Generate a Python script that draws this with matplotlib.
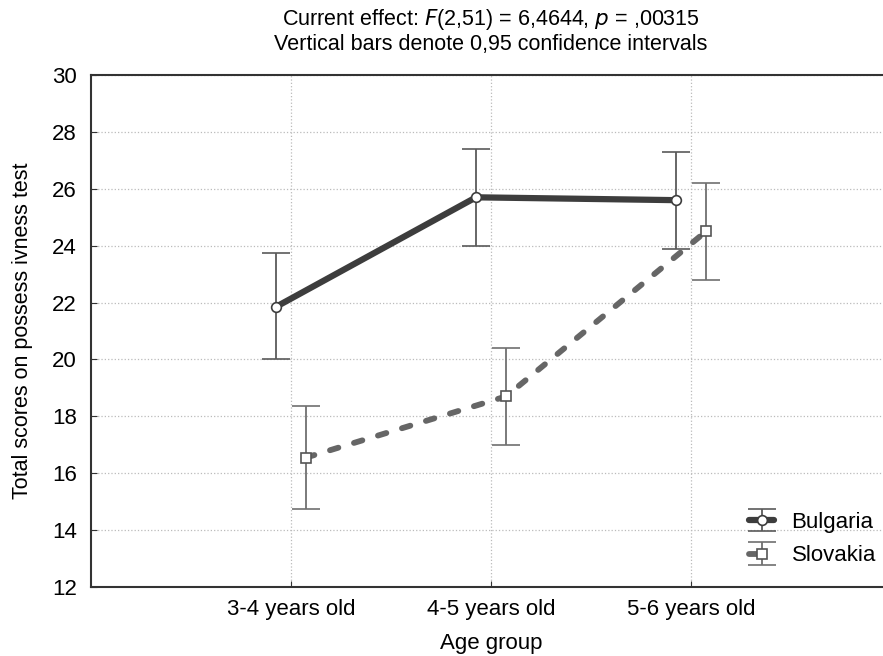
import matplotlib.pyplot as plt
import numpy as np

plt.rcParams['font.family'] = ['Liberation Sans', 'DejaVu Sans']

# Age groups
groups = ['3-4 years old', '4-5 years old', '5-6 years old']

# Means and 0.95 CI bounds
bulgaria_mean = [21.85, 25.7, 25.6]
bulgaria_low = [20.0, 24.0, 23.9]
bulgaria_high = [23.75, 27.4, 27.3]

slovakia_mean = [16.55, 18.7, 24.5]
slovakia_low = [14.75, 17.0, 22.8]
slovakia_high = [18.35, 20.4, 26.2]

x = np.arange(1, len(groups) + 1)
offset = 0.075

fig = plt.figure(figsize=(8.83, 6.56), dpi=100)
ax = fig.add_axes([91 / 883, 69 / 656, 800 / 883, 512 / 656])

b_err = [np.subtract(bulgaria_mean, bulgaria_low), np.subtract(bulgaria_high, bulgaria_mean)]
s_err = [np.subtract(slovakia_mean, slovakia_low), np.subtract(slovakia_high, slovakia_mean)]

bl = ax.errorbar(x - offset, bulgaria_mean, yerr=b_err, color='#3d3d3d', lw=4.5,
                 ecolor='#5a5a5a', elinewidth=1.3, capsize=10, capthick=1.3,
                 marker='o', ms=7, mfc='white', mec='#3d3d3d', mew=1.2,
                 solid_capstyle='round', label='Bulgaria', zorder=3)
sl = ax.errorbar(x + offset, slovakia_mean, yerr=s_err, color='#666666', lw=4.2,
                 ls=(0, (1.5, 2.8)), dash_capstyle='round',
                 ecolor='#707070', elinewidth=1.3, capsize=10, capthick=1.3,
                 marker='s', ms=7, mfc='white', mec='#555555', mew=1.2,
                 label='Slovakia', zorder=3)

ax.set_xlim(0, 4)
ax.set_ylim(12, 30)
ax.set_yticks(np.arange(12, 31, 2))
ax.set_xticks(x)
ax.set_xticklabels(groups)
ax.tick_params(axis='both', labelsize=16, direction='in', length=4, color='#333333')
ax.tick_params(axis='x', pad=9)
ax.tick_params(axis='y', pad=10)
ax.grid(True, ls=':', color='#bbbbbb', lw=0.9)
ax.set_axisbelow(True)

for s in ['left', 'top', 'bottom']:
    ax.spines[s].set_color('#333333')
    ax.spines[s].set_linewidth(1.5)
ax.spines['right'].set_visible(False)

ax.set_xlabel('Age group', fontsize=16, labelpad=9)
ax.set_ylabel('Total scores on possess ivness test', fontsize=15.5, labelpad=14)
ax.set_title('Current effect: $\\mathit{F}$(2,51) = 6,4644, $\\mathit{p}$ = ,00315\n'
             'Vertical bars denote 0,95 confidence intervals',
             fontsize=15.5, linespacing=1.1, pad=18)

fig.legend(handles=[bl, sl], loc='center left', bbox_to_anchor=(0.836, 0.178),
           frameon=False, fontsize=16, handlelength=1.1, handletextpad=0.8,
           labelspacing=0.55, borderpad=0)

fig.savefig('out.png', dpi=100)
